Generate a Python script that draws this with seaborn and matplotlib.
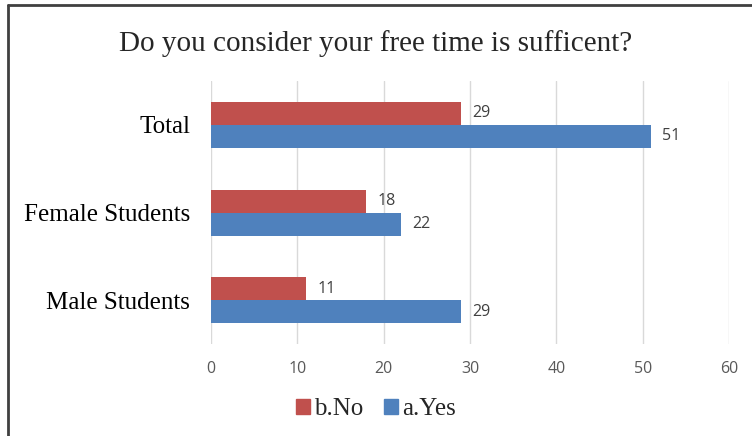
import pandas as pd
import seaborn as sns
import matplotlib.pyplot as plt
from matplotlib.lines import Line2D

# chart values
groups = ["Total", "Female Students", "Male Students"]
answers = ["b.No", "a.Yes"]
no_counts = [29, 18, 11]
yes_counts = [51, 22, 29]
colors = {"b.No": "#C0504D", "a.Yes": "#4F81BD"}

df = pd.DataFrame({
    "group": groups * 2,
    "answer": ["b.No"] * 3 + ["a.Yes"] * 3,
    "count": no_counts + yes_counts,
})

sns.set_style("white")
fig = plt.figure(figsize=(7.52, 4.36), dpi=100)
ax = fig.add_axes([0.2806, 0.211, 0.6888, 0.603])

sns.barplot(data=df, y="group", x="count", hue="answer", order=groups,
            hue_order=answers, palette=colors, orient="h", width=0.526,
            saturation=1, linewidth=0, ax=ax, legend=False)

for cont in ax.containers:
    ax.bar_label(cont, padding=8, fontsize=11.5, color="#404040",
                 family="Open Sans")

ax.set_xlim(0, 60)
ax.set_xticks(range(0, 61, 10))
ax.grid(axis="x", color="#D9D9D9", linewidth=1)
ax.set_axisbelow(True)
for s in ax.spines.values():
    s.set_visible(False)
ax.set_xlabel("")
ax.set_ylabel("")
ax.tick_params(axis="x", colors="#595959", labelsize=11.5, length=0, pad=12)
ax.tick_params(axis="y", length=0, pad=15)
for lbl in ax.get_xticklabels():
    lbl.set_family("Open Sans")
for lbl in ax.get_yticklabels():
    lbl.set_family("Liberation Serif")
    lbl.set_fontsize(18)
    lbl.set_color("#000000")

fig.text(0.5, 0.9, "Do you consider your free time is sufficent?",
         ha="center", va="center", family="Liberation Serif", fontsize=21)

handles = [plt.Rectangle((0, 0), 1, 1, color=colors[a]) for a in answers]
fig.legend(handles, answers, loc="center", bbox_to_anchor=(0.5, 0.062),
           ncol=2, frameon=False, prop={"family": "Liberation Serif", "size": 18},
           handlelength=0.55, handleheight=0.55, handletextpad=0.2,
           columnspacing=0.8)

# chart-area border (top and left edges visible in the crop)
fig.add_artist(Line2D([0.011, 1.0], [0.989, 0.989], color="#404040",
                      linewidth=2, transform=fig.transFigure))
fig.add_artist(Line2D([0.011, 0.011], [0.0, 0.989], color="#404040",
                      linewidth=2, transform=fig.transFigure))

fig.savefig("out.png", dpi=100)
